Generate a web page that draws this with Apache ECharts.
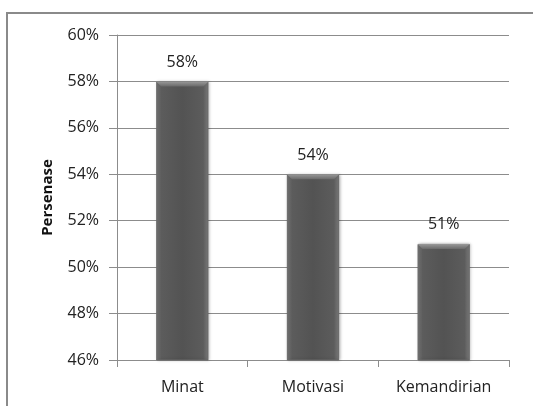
<!DOCTYPE html>
<html>
<head>
<meta charset="utf-8">
<script src="https://cdn.jsdelivr.net/npm/echarts@6/dist/echarts.min.js"></script>
<style>
  html, body { margin: 0; padding: 0; background: #fff; }
  #chart { width: 533px; height: 406px; }
</style>
</head>
<body>
<div id="chart"></div>
<script>
// Aspect categories and their percentages
const categories = ['Minat', 'Motivasi', 'Kemandirian'];
const values = [58, 54, 51];
const yMin = 46;
const yMax = 60;
const yStep = 2;

const chart = echarts.init(document.getElementById('chart'));

// Side-shaded fill for the bar bodies
const barFill = new echarts.graphic.LinearGradient(0, 0, 1, 0, [
  { offset: 0, color: '#7c7c7c' },
  { offset: 0.1, color: '#5c5c5c' },
  { offset: 0.5, color: '#535353' },
  { offset: 0.9, color: '#5c5c5c' },
  { offset: 1, color: '#7c7c7c' }
]);

// Bevelled cap drawn over the top of each bar
function renderBevel(params, api) {
  const top = api.coord([api.value(0), api.value(1)]);
  const w = api.size([1, 0])[0] * 0.4;
  const x0 = top[0] - w / 2;
  const x1 = top[0] + w / 2;
  const y = top[1];
  const b = 5;
  return {
    type: 'polygon',
    shape: { points: [[x0, y], [x1, y], [x1 - b, y + b], [x0 + b, y + b]] },
    style: {
      fill: new echarts.graphic.LinearGradient(0, 0, 0, 1, [
        { offset: 0, color: '#9a9a9a' },
        { offset: 1, color: '#6a6a6a' }
      ])
    },
    silent: true
  };
}

chart.setOption({
  animation: false,
  textStyle: { fontFamily: 'Open Sans, Liberation Sans, sans-serif' },
  graphic: [{
    type: 'rect',
    shape: { x: 7, y: 13, width: 540, height: 420 },
    style: { fill: 'none', stroke: '#8a8a8a', lineWidth: 2 },
    silent: true
  }],
  grid: { left: 117, right: 24, top: 35, bottom: 46, containLabel: false },
  xAxis: {
    type: 'category',
    data: categories,
    axisLine: { lineStyle: { color: '#8c8c8c', width: 1 } },
    axisTick: { show: true, length: 7, lineStyle: { color: '#8c8c8c' } },
    axisLabel: { color: '#222', fontSize: 16, margin: 19 }
  },
  yAxis: {
    type: 'value',
    min: yMin,
    max: yMax,
    interval: yStep,
    name: 'Persenase',
    nameLocation: 'middle',
    nameGap: 62,
    nameRotate: 90,
    nameTextStyle: { color: '#111', fontSize: 15, fontWeight: 'bold' },
    axisLine: { show: true, lineStyle: { color: '#8c8c8c', width: 1 } },
    axisTick: { show: true, length: 8, lineStyle: { color: '#8c8c8c' } },
    axisLabel: { color: '#222', fontSize: 16, margin: 18, formatter: '{value}%' },
    splitLine: { lineStyle: { color: '#8c8c8c', width: 1 } }
  },
  series: [{
    type: 'bar',
    data: values,
    barWidth: '40%',
    itemStyle: {
      color: barFill,
      borderColor: '#6a6a6a',
      borderWidth: 1,
      shadowColor: 'rgba(0,0,0,0.25)',
      shadowBlur: 3,
      shadowOffsetX: 1,
      shadowOffsetY: 0
    },
    label: {
      show: true,
      position: 'top',
      distance: 11,
      color: '#222',
      fontSize: 16,
      formatter: '{c}%'
    }
  }, {
    type: 'custom',
    data: values.map((v, i) => [i, v]),
    renderItem: renderBevel,
    z: 3
  }]
});
</script>
</body>
</html>
